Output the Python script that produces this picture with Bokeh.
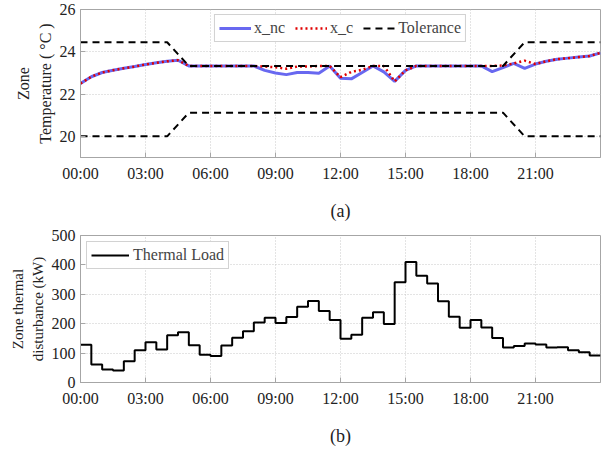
from bokeh.plotting import figure
from bokeh.models import FixedTicker, Legend, LegendItem, Range1d
from bokeh.layouts import column
from bokeh.embed import file_html
from bokeh.resources import INLINE

# ---------------- data ----------------
hours = [i * 0.5 for i in range(49)]  # 00:00 .. 24:00, half-hour samples

x_nc = [22.50, 22.82, 23.02, 23.13, 23.22, 23.30, 23.40, 23.48, 23.55, 23.60,
        23.33, 23.33, 23.33, 23.33, 23.33, 23.33, 23.33,
        23.12, 23.00, 22.92, 23.02, 23.02, 22.98, 23.33,
        22.75, 22.72, 23.02, 23.33, 23.05, 22.60, 23.12, 23.33,
        23.33, 23.33, 23.33, 23.33, 23.33, 23.33,
        23.06, 23.25, 23.45, 23.22, 23.42, 23.55, 23.65, 23.70, 23.75, 23.80, 23.95]

x_c = [22.50, 22.82, 23.02, 23.13, 23.22, 23.30, 23.40, 23.48, 23.55, 23.60,
       23.33, 23.33, 23.33, 23.33, 23.33, 23.33, 23.33,
       23.30, 23.27, 23.20, 23.30, 23.30, 23.33, 23.33,
       22.80, 23.05, 23.15, 23.33, 23.33, 22.60, 23.12, 23.33,
       23.33, 23.33, 23.33, 23.33, 23.33, 23.33,
       23.33, 23.35, 23.45, 23.58, 23.42, 23.55, 23.65, 23.70, 23.75, 23.80, 23.95]

tol_hours = [0, 4, 5, 19.5, 20.5, 24]
tol_upper = [24.45, 24.45, 23.33, 23.33, 24.45, 24.45]
tol_lower = [20.0, 20.0, 21.12, 21.12, 20.0, 20.0]

load_hours = [i * 0.5 for i in range(48)]  # start of each half-hour step
thermal_load = [128, 61, 44, 41, 72, 110, 137, 112, 161, 171, 127, 94,
                90, 126, 152, 174, 204, 220, 202, 223, 258, 277, 243, 213,
                149, 162, 220, 239, 199, 341, 410, 363, 337, 276, 224, 186,
                213, 187, 151, 119, 124, 133, 129, 119, 120, 110, 103, 92]

tick_hours = [0, 3, 6, 9, 12, 15, 18, 21]
tick_labels = ["00:00", "03:00", "06:00", "09:00", "12:00", "15:00", "18:00", "21:00"]
temp_ticks = [20, 22, 24, 26]
load_ticks = [0, 100, 200, 300, 400, 500]

FONT = "Liberation Serif"
GREY = "#a6a6a6"
TXT = "#222222"


def style(p, yticks, ylabel, ylabel_size, xlabel):
    xa, ya = p.xaxis[0], p.yaxis[0]
    xa.ticker = FixedTicker(ticks=tick_hours)
    xa.major_label_overrides = {h: s for h, s in zip(tick_hours, tick_labels)}
    ya.ticker = FixedTicker(ticks=yticks)
    for ax in (xa, ya):
        ax.axis_line_color = GREY
        ax.major_tick_line_color = GREY
        ax.major_tick_in = 5
        ax.major_tick_out = 0
        ax.minor_tick_line_color = None
        ax.major_label_text_font = FONT
        ax.major_label_text_font_size = "16px"
        ax.major_label_text_color = TXT
        ax.axis_label_text_font = FONT
        ax.axis_label_text_font_style = "normal"
        ax.axis_label_text_color = TXT
    xa.major_label_standoff = 7
    ya.major_label_standoff = 5
    ya.axis_label = ylabel
    ya.axis_label_text_font_size = ylabel_size
    ya.axis_label_text_line_height = 1.25
    ya.axis_label_standoff = 3
    xa.axis_label = xlabel
    xa.axis_label_text_font_size = "18px"
    xa.axis_label_standoff = 16
    for g in (p.xgrid[0], p.ygrid[0]):
        g.grid_line_color = "#c8c8c8"
        g.grid_line_dash = "1 2"
    p.outline_line_color = GREY
    p.outline_line_width = 1
    p.background_fill_color = "white"
    p.border_fill_color = "white"


# ---------------- top panel ----------------
p1 = figure(width=608, height=228, x_range=Range1d(0, 24), y_range=Range1d(19, 26),
            output_backend="svg", toolbar_location=None,
            min_border_left=80, min_border_right=8, min_border_top=9, min_border_bottom=71)
style(p1, temp_ticks, "Zone\nTemperature ( °C )", "16px", "(a)")

r_nc = p1.line(hours, x_nc, line_color="#6868f0", line_width=3)
r_c = p1.line(hours, x_c, line_color="#e00000", line_width=2.5, line_dash="2 3")
r_tu = p1.line(tol_hours, tol_upper, line_color="black", line_width=2, line_dash="7 5")
p1.line(tol_hours, tol_lower, line_color="black", line_width=2, line_dash="7 5")

leg1 = Legend(items=[LegendItem(label="x_nc", renderers=[r_nc]),
                     LegendItem(label="x_c", renderers=[r_c]),
                     LegendItem(label="Tolerance", renderers=[r_tu])],
              orientation="horizontal", location="top_center",
              label_text_font=FONT, label_text_font_size="16px",
              border_line_color=GREY, glyph_width=32, glyph_height=14,
              label_standoff=3, spacing=10, padding=4, margin=5,
              label_height=14)
p1.add_layout(leg1)

# ---------------- bottom panel ----------------
p2 = figure(width=608, height=220, x_range=Range1d(0, 24), y_range=Range1d(0, 500),
            output_backend="svg", toolbar_location=None,
            min_border_left=80, min_border_right=8, min_border_top=7, min_border_bottom=65)
style(p2, load_ticks, "Zone thermal\ndisturbance (kW)", "15px", "(b)")

step_x = load_hours + [24]
step_y = thermal_load + [thermal_load[-1]]
r_load = p2.step(step_x, step_y, mode="after", line_color="black", line_width=2)

leg2 = Legend(items=[LegendItem(label="Thermal Load", renderers=[r_load])],
              location="top_left", label_text_font=FONT, label_text_font_size="16px",
              border_line_color=GREY, glyph_width=38, glyph_height=14,
              label_standoff=4, padding=4, margin=6, label_height=14)
p2.add_layout(leg2)

layout = column(p1, p2, spacing=0)
open("out.html", "w").write(file_html(layout, INLINE))
